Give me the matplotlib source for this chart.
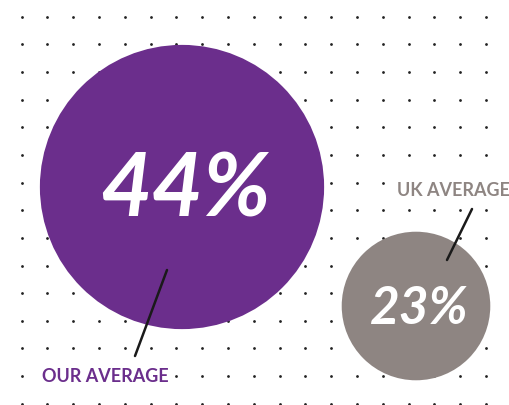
import numpy as np
import matplotlib.pyplot as plt
import matplotlib.patches as patches

# data
labels = ["OUR AVERAGE", "UK AVERAGE"]
values = [44, 23]
value_text = ["44%", "23%"]

# layout (pixels, y down)
W, H = 509, 405
centers = [(182, 187), (416, 306)]
px_per_unit = 3.23
fills = ["#6b2e8c", "#8e8582"]
label_pos = [(42, 376), (397, 190)]
line_start = [(135, 356), (472, 209)]
line_end = [(167, 270), (447, 260)]
num_sizes = [64, 37]

fig = plt.figure(figsize=(W / 100, H / 100), dpi=100)
ax = fig.add_axes([0, 0, 1, 1])
ax.set_xlim(0, W)
ax.set_ylim(H, 0)
ax.set_aspect('equal')
ax.axis('off')

# dotted background grid
gx = 21.7 + 25.8 * np.arange(19)
gy = 16.7 + 27.65 * np.arange(15)
xx, yy = np.meshgrid(gx, gy)
ax.scatter(xx.ravel(), yy.ravel(), s=4, color='#222222', zorder=1, linewidths=0)

for i in range(len(values)):
    r = values[i] * px_per_unit
    circ = patches.Circle(centers[i], radius=r, facecolor=fills[i], edgecolor='none', zorder=2)
    ax.add_patch(circ)
    ax.text(centers[i][0] + 3, centers[i][1] + 4, value_text[i], color='white',
            fontsize=num_sizes[i], fontstyle='italic', fontweight='bold',
            family=['Lato', 'DejaVu Sans'], ha='center', va='center', zorder=4)
    ax.plot([line_start[i][0], line_end[i][0]], [line_start[i][1], line_end[i][1]],
            color='#1a1a1a', lw=1.8, zorder=3, solid_capstyle='round')
    ax.text(label_pos[i][0], label_pos[i][1], labels[i], color=fills[i],
            fontsize=13, fontweight='bold', family=['Lato', 'DejaVu Sans'],
            ha='left', va='center', zorder=4,
            bbox=dict(facecolor='white', edgecolor='none', pad=2))

fig.savefig('out.png', dpi=100, facecolor='white')
